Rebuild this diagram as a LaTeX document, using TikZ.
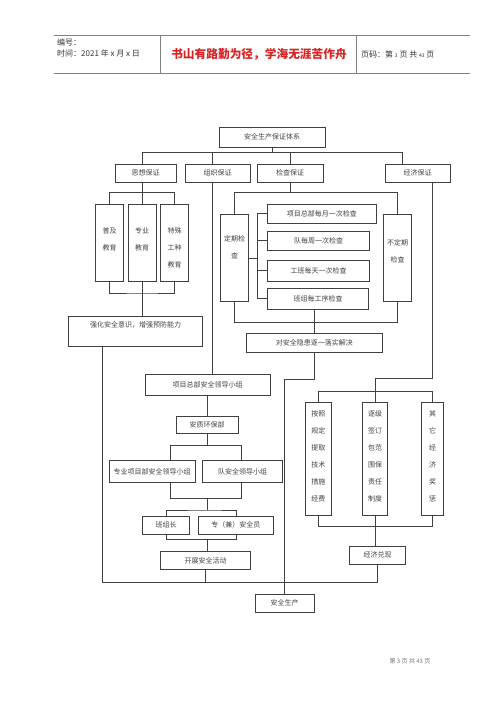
\documentclass[tikz,border=0pt]{standalone}
\usepackage{fontspec}
\setmainfont{Noto Sans CJK SC}
\usepackage{tikz}
\usepackage{xcolor}
\definecolor{mottored}{RGB}{215,35,35}
\tikzstyle{box} = [draw=black!75, line width=0.6pt, inner sep=0pt, text=black!75, font=\fontsize{7}{17}\selectfont]
\tikzstyle{line} = [draw=black!75, line width=0.6pt]
\tikzstyle{hline} = [draw=black!50, line width=0.7pt]
\tikzstyle{head} = [inner sep=0pt, text=black!80, font=\fontsize{8}{9}\selectfont]
\tikzstyle{motto} = [inner sep=0pt, text=mottored, font=\fontsize{11.7}{13}\selectfont\bfseries]
\tikzstyle{foot} = [inner sep=0pt, text=black!55, font=\fontsize{6}{7}\selectfont]
\newcommand{\coltext}[1]{\begin{tabular}[t]{@{}c@{}}#1\end{tabular}}

\begin{document}
\begin{tikzpicture}[x=1pt, y=-1pt]
		\useasboundingbox (0,0) rectangle (500,707);

		%Header
		\draw[hline] (54,35.6) -- (470,35.6);
		\draw[hline] (54,73) -- (470,73);
		\draw[hline] (160,35.6) -- (160,73);
		\draw[hline] (356,35.6) -- (356,73);
		\node[head, anchor=west] (num) at (57,42.7) {编号：};
		\node[head, anchor=west] (date) at (57,53.5) {时间：2021 年 x 月 x 日};
		\node[motto] (motto) at (259,54) {书山有路勤为径，学海无涯苦作舟};
		\node[head, anchor=west] (pageno) at (361,54) {页码：第 {\fontsize{5}{6}\selectfont 3} 页 共 {\fontsize{5}{6}\selectfont 43} 页};

		%Top level
		\node[box, minimum width=106pt, minimum height=20pt] (top) at (272,137) {安全生产保证体系};
		\node[box, minimum width=61pt, minimum height=18pt] (thought) at (145.5,173) {思想保证};
		\node[box, minimum width=65pt, minimum height=18pt] (org) at (217.5,173) {组织保证};
		\node[box, minimum width=66pt, minimum height=18pt] (check) at (290,173) {检查保证};
		\node[box, minimum width=65pt, minimum height=18pt] (econ) at (417.5,173) {经济保证};

		%Thought
		\node[box, minimum width=27.6pt, text height=29.7pt, text depth=47.3pt] (edu1) at (109.5,242.5) {\coltext{普及\\教育}};
		\node[box, minimum width=27.7pt, text height=29.7pt, text depth=47.3pt] (edu2) at (142.2,242.5) {\coltext{专业\\教育}};
		\node[box, minimum width=28pt, text height=29.7pt, text depth=47.3pt] (edu3) at (174.7,242.5) {\coltext{特殊\\工种\\教育}};
		\node[box, minimum width=134.4pt, text height=11pt, text depth=18.3pt] (strong) at (135.5,331.3) {强化安全意识，增强预防能力};

		%Check
		\node[box, minimum width=27.6pt, text height=26.7pt, text depth=60.7pt] (reg) at (234.5,258) {\coltext{定期检\\查}};
		\node[box, minimum width=28.4pt, text height=31.1pt, text depth=56.3pt] (irreg) at (397.5,258) {\coltext{不定期\\检查}};
		\node[box, anchor=west, minimum width=108.4pt, minimum height=19.3pt] (c1) at (267.3,213.7) {项目总部每月一次检查};
		\node[box, anchor=west, minimum width=102pt, minimum height=19pt] (c2) at (267.3,240.5) {队每周一次检查};
		\node[box, anchor=west, minimum width=102pt, minimum height=21pt] (c3) at (267.3,270.5) {工班每天一次检查};
		\node[box, anchor=west, minimum width=101pt, minimum height=20.7pt] (c4) at (267.3,298.7) {班组每工序检查};
		\node[box, minimum width=136.7pt, minimum height=19pt] (fix) at (314.3,342.8) {对安全隐患逐一落实解决};

		%Organisation
		\node[box, minimum width=125pt, minimum height=21.7pt] (hq) at (207.5,384.9) {项目总部安全领导小组};
		\node[box, minimum width=62.3pt, minimum height=17.3pt] (dept) at (207.2,424.7) {安质环保部};
		\node[box, minimum width=85.7pt, minimum height=21.6pt] (g1) at (152.2,471.5) {专业项目部安全领导小组};
		\node[box, minimum width=80.4pt, minimum height=21.6pt] (g2) at (242.5,471.5) {队安全领导小组};
		\node[box, minimum width=46.6pt, minimum height=17.3pt] (k1) at (166,525.3) {班组长};
		\node[box, minimum width=75pt, minimum height=17.3pt] (k2) at (235.8,525.3) {专（兼）安全员};
		\node[box, minimum width=90pt, minimum height=17.6pt] (act) at (205.7,560.5) {开展安全活动};

		%Economy
		\node[box, minimum width=26.7pt, text height=13.7pt, text depth=99pt] (e1) at (318.3,458.7) {\coltext{按照\\规定\\提取\\技术\\措施\\经费}};
		\node[box, minimum width=24.6pt, text height=13.7pt, text depth=99pt] (e2) at (375,458.7) {\coltext{逐级\\签订\\包范\\围保\\责任\\制度}};
		\node[box, minimum width=21.6pt, text height=13.7pt, text depth=99pt] (e3) at (432.5,458.7) {\coltext{其\\它\\经\\济\\奖\\惩}};
		\node[box, minimum width=56.4pt, minimum height=18pt] (pay) at (377.5,555) {经济兑现};
		\node[box, minimum width=59.3pt, minimum height=18.3pt] (safe) at (284.7,603.2) {安全生产};

		%Footer
		\node[foot] (foot) at (410,661) {第 3 页 共 43 页};

		%bus points
		\coordinate (busA) at (272,152.3);
		\coordinate (orgX) at (212.7,0);
		\coordinate (econX) at (402.7,0);
		\coordinate (eduTop) at (142.2,192.7);
		\coordinate (eduBot) at (142.2,293);
		\coordinate (busC) at (290,192.3);
		\coordinate (busD) at (314.3,322.3);
		\coordinate (brk) at (257.7,0);
		\coordinate (jog) at (300,379.3);
		\coordinate (jog2) at (400,378.5);
		\coordinate (busE) at (375,391.7);
		\coordinate (busF) at (375,526.7);
		\coordinate (busG) at (285,582.3);
		\coordinate (leftX) at (102.3,0);
		\coordinate (busH) at (207.7,445.7);
		\coordinate (busI) at (207.7,498.3);
		\coordinate (busJ) at (207.7,510);
		\coordinate (busK) at (207.7,539.3);
		\coordinate (gL) at (170.7,0);
		\coordinate (gR) at (241,0);

		%connections top
		\draw[line] (top.south) -- (top.south |- busA);
		\draw[line] (edu2 |- thought.north) |- (busA) -| (econX |- econ.north);
		\draw[line] (orgX |- busA) -- (orgX |- org.north);
		\draw[line] (check.north |- busA) -- (check.north);

		%connections thought
		\draw[line] (edu2 |- thought.south) -- (edu2.north);
		\draw[line] (edu1.north) |- (eduTop) -| (edu3.north);
		\draw[line] (edu1.south) |- (eduBot) -| (edu3.south);
		\draw[line] (edu2.south) -- (edu2.south |- strong.north);
		\draw[line] (leftX |- strong.south) |- (busG) -| (pay.south);

		%connections check
		\draw[line] (check.south) -- (busC);
		\draw[line] (reg.north) |- (busC) -| (irreg.north);
		\draw[line] (reg.south) |- (busD) -| (irreg.south);
		\draw[line] (c1.west) -| (brk |- c4.west) -- (c4.west);
		\draw[line] (c2.west) -- (c2.west -| brk);
		\draw[line] (c3.west) -- (c3.west -| brk);
		\draw[line] (reg.east) -- (reg.east -| brk);
		\draw[line] (fix.north |- c4.south) -- (fix.north);
		\draw[line] (fix.south) |- (safe.north |- jog) -- (safe.north);

		%connections organisation
		\draw[line] (orgX |- org.south) -- (orgX |- hq.north);
		\draw[line] (dept.north |- hq.south) -- (dept.north);
		\draw[line] (dept.south) -- (dept.south |- busH);
		\draw[line] (gL |- g1.north) |- (busH) -| (gR |- g2.north);
		\draw[line] (gL |- g1.south) |- (busI) -| (gR |- g2.south);
		\draw[line] (busI) -- (busJ);
		\draw[line] (k1.north) |- (busJ) -| (k2.north);
		\draw[line] (k1.south) |- (busK) -| (k2.south);
		\draw[line] (busK) -- (busK |- act.north);
		\draw[line] (act.south) -- (act.south |- busG);

		%connections economy
		\draw[line] (e3 |- econ.south) |- (e2 |- jog2) -- (e2.north);
		\draw[line] (e1.north) |- (busE) -| (e3.north);
		\draw[line] (e1.south) |- (busF) -| (e3.south);
		\draw[line] (e2.south) -- (e2.south |- pay.north);

	\end{tikzpicture}
\end{document}
